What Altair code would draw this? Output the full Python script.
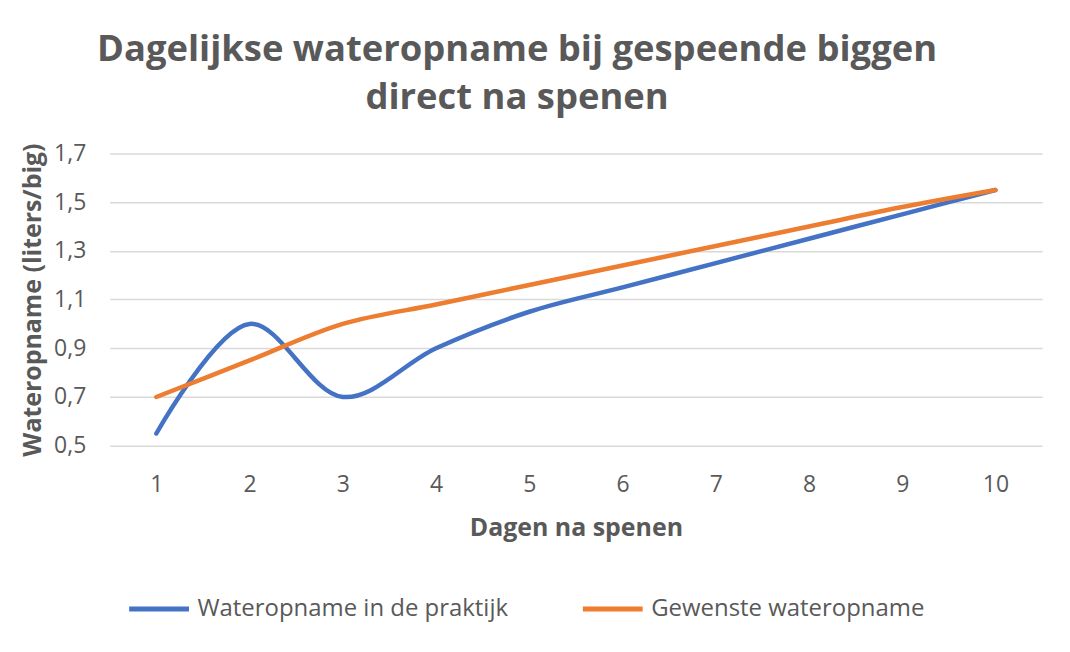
import altair as alt
import pandas as pd

days = [1, 2, 3, 4, 5, 6, 7, 8, 9, 10]
praktijk = [0.55, 1.0, 0.7, 0.9, 1.05, 1.15, 1.25, 1.35, 1.45, 1.55]
gewenst = [0.7, 0.85, 1.0, 1.08, 1.16, 1.24, 1.32, 1.40, 1.48, 1.55]
series_names = ["Wateropname in de praktijk", "Gewenste wateropname"]
series_colors = ["#4472C4", "#ED7D31"]
y_ticks = [0.5, 0.7, 0.9, 1.1, 1.3, 1.5, 1.7]

rows = []
for d, v in zip(days, praktijk):
    rows.append({"dag": d, "waarde": v, "reeks": series_names[0]})
for d, v in zip(days, gewenst):
    rows.append({"dag": d, "waarde": v, "reeks": series_names[1]})
df = pd.DataFrame(rows)

FONT = "Open Sans"
GRAY = "#595959"

chart = alt.Chart(df).mark_line(
    interpolate="catmull-rom", strokeWidth=4.5, strokeCap="round"
).encode(
    x=alt.X("dag:O", scale=alt.Scale(type="point", padding=0.5),
            axis=alt.Axis(title="Dagen na spenen", labelAngle=0, ticks=False,
                          domain=False, grid=False, labelPadding=28,
                          titlePadding=19)),
    y=alt.Y("waarde:Q", scale=alt.Scale(domain=[0.5, 1.7], nice=False, zero=False),
            axis=alt.Axis(title="Wateropname (liters/big)", values=y_ticks,
                          labelExpr="replace(format(datum.value, '.1f'), '.', ',')",
                          ticks=False, domain=False, labelPadding=24,
                          titlePadding=8)),
    color=alt.Color("reeks:N",
                    scale=alt.Scale(domain=series_names, range=series_colors),
                    legend=alt.Legend(title=None, orient="none", legendX=17,
                                      legendY=424, direction="horizontal",
                                      symbolType="stroke", symbolSize=3600,
                                      symbolStrokeWidth=5, labelOffset=6,
                                      columnPadding=64, labelFontSize=24,
                                      labelLimit=0,
                                      labelFont=FONT, labelColor=GRAY)),
).properties(
    width=935,
    height=293,
    padding={"left": 102, "top": 145, "right": 20, "bottom": 200},
    autosize=alt.AutoSizeParams(type="none"),
    title=alt.TitleParams(
        text=["Dagelijkse wateropname bij gespeende biggen", "direct na spenen"],
        font=FONT, fontSize=36.5, fontWeight="bold", color=GRAY,
        anchor="middle", dx=-59, offset=26, lineHeight=48,
    ),
).configure_view(stroke=None).configure_axis(
    labelFont=FONT, labelFontSize=23, labelColor=GRAY,
    titleFont=FONT, titleFontSize=25, titleFontWeight="bold", titleColor=GRAY,
    gridColor="#D9D9D9", gridWidth=1.5,
)

chart.save("out.html", embed_options={"renderer": "svg", "actions": False})
